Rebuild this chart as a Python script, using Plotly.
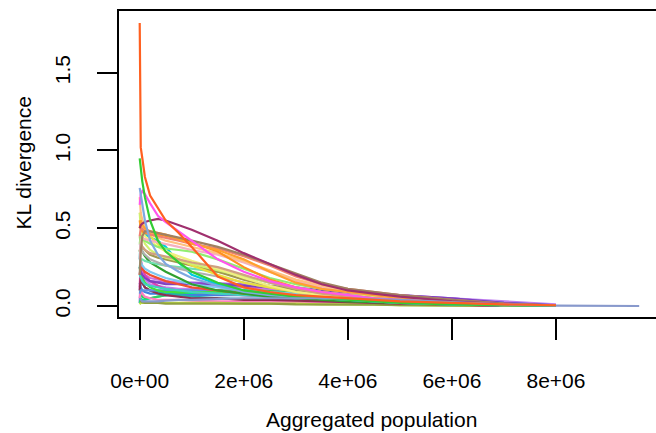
import plotly.graph_objects as go

# Aggregated population grid (millions)
POP_M = [0, 0.02, 0.05, 0.1, 0.2, 0.35, 0.5, 0.75, 1.0, 1.5, 2.0, 2.5, 3.0, 3.5, 4.0, 4.5, 5.0, 6.0, 7.0, 8.0, 9.6]

N = None
s01 = [0.02, 0.20, 0.18, 0.17, 0.16, 0.155, 0.15, 0.15, 0.15, 0.145, 0.14, 0.13, 0.12, 0.10, 0.09, 0.08, 0.07, 0.05, 0.02, 0.005, N]
s02 = [0.10, 0.22, 0.20, 0.17, 0.14, 0.13, 0.12, 0.11, 0.11, 0.10, 0.09, 0.09, 0.08, 0.08, 0.07, 0.07, 0.06, 0.05, 0.03, 0.01, N]
s03 = [0.02, 0.05, 0.04, 0.04, 0.05, 0.06, 0.07, 0.08, 0.08, 0.08, 0.08, 0.08, 0.07, 0.07, 0.06, 0.06, 0.05, 0.03, 0.01, 0.005, N]
s04 = [0.10, 0.08, 0.06, 0.05, 0.05, 0.06, 0.07, 0.08, 0.09, 0.10, 0.10, 0.10, 0.09, 0.08, 0.07, 0.06, 0.05, 0.03, 0.01, 0.0, N]
s05 = [0.15, 0.12, 0.10, 0.09, 0.08, 0.08, 0.07, 0.07, 0.07, 0.07, 0.07, 0.07, 0.07, 0.07, 0.07, 0.065, 0.06, 0.045, 0.02, 0.005, N]
s06 = [0.25, 0.20, 0.15, 0.12, 0.10, 0.09, 0.08, 0.07, 0.06, 0.05, 0.045, 0.04, 0.04, 0.04, 0.035, 0.03, 0.03, 0.02, 0.01, 0.0, N]
s07 = [0.20, 0.25, 0.22, 0.20, 0.18, 0.17, 0.16, 0.15, 0.14, 0.13, 0.12, 0.11, 0.10, 0.09, 0.08, 0.07, 0.06, 0.04, 0.01, 0.0, N]
s08 = [0.05, 0.10, 0.08, 0.06, 0.05, 0.04, 0.04, 0.04, 0.035, 0.03, 0.03, 0.03, 0.025, 0.02, 0.02, 0.015, 0.01, 0.005, 0.0, N, N]
s09 = [0.01, 0.02, 0.02, 0.02, 0.02, 0.02, 0.02, 0.02, 0.02, 0.02, 0.015, 0.015, 0.015, 0.01, 0.01, 0.01, 0.005, 0.003, 0.0, N, N]
s10 = [0.03, 0.03, 0.025, 0.02, 0.02, 0.02, 0.015, 0.015, 0.015, 0.015, 0.015, 0.015, 0.01, 0.01, 0.01, 0.008, 0.005, 0.003, 0.001, 0.0, N]
s11 = [0.12, 0.30, 0.25, 0.20, 0.16, 0.13, 0.11, 0.10, 0.09, 0.08, 0.07, 0.06, 0.05, 0.04, 0.035, 0.03, 0.02, 0.01, 0.0, N, N]
s12 = [0.10, 0.18, 0.15, 0.12, 0.10, 0.08, 0.07, 0.06, 0.05, 0.05, 0.04, 0.04, 0.035, 0.03, 0.025, 0.02, 0.015, 0.01, 0.0, N, N]
s13 = [0.08, 0.10, 0.10, 0.10, 0.10, 0.10, 0.10, 0.10, 0.10, 0.095, 0.09, 0.085, 0.08, 0.075, 0.07, 0.06, 0.05, 0.035, 0.015, 0.003, N]
s14 = [0.25, 0.20, 0.18, 0.15, 0.12, 0.10, 0.09, 0.09, 0.09, 0.09, 0.09, 0.085, 0.08, 0.07, 0.06, 0.05, 0.04, 0.025, 0.01, 0.0, N]
s15 = [0.25, 0.22, 0.20, 0.18, 0.16, 0.15, 0.14, 0.14, 0.14, 0.14, 0.13, 0.12, 0.11, 0.10, 0.09, 0.08, 0.07, 0.05, 0.02, 0.005, N]
s16 = [0.20, 0.18, 0.16, 0.14, 0.13, 0.12, 0.11, 0.10, 0.09, 0.08, 0.07, 0.06, 0.05, 0.045, 0.04, 0.035, 0.03, 0.02, 0.01, 0.0, N]
s17 = [0.20, 0.25, 0.24, 0.22, 0.20, 0.18, 0.16, 0.14, 0.12, 0.10, 0.08, 0.07, 0.06, 0.05, 0.04, 0.03, 0.02, 0.01, 0.005, 0.0, N]
s18 = [0.30, 0.28, 0.26, 0.24, 0.22, 0.20, 0.18, 0.16, 0.14, 0.12, 0.10, 0.09, 0.08, 0.07, 0.06, 0.05, 0.04, 0.02, 0.01, 0.0, N]
s19 = [0.35, 0.38, 0.35, 0.32, 0.28, 0.25, 0.22, 0.18, 0.14, 0.10, 0.08, 0.06, 0.05, 0.04, 0.03, 0.025, 0.02, 0.01, 0.005, 0.0, N]
s20 = [0.30, 0.45, 0.48, 0.46, 0.44, 0.42, 0.38, 0.28, 0.20, 0.14, 0.10, 0.08, 0.06, 0.05, 0.04, 0.03, 0.02, 0.01, 0.005, 0.0, N]
s21 = [0.25, 0.30, 0.30, 0.29, 0.28, 0.27, 0.26, 0.25, 0.24, 0.22, 0.19, 0.15, 0.12, 0.09, 0.07, 0.05, 0.04, 0.02, 0.005, 0.0, N]
s22 = [0.35, 0.40, 0.38, 0.36, 0.33, 0.31, 0.30, 0.28, 0.26, 0.22, 0.17, 0.13, 0.10, 0.07, 0.05, 0.04, 0.03, 0.02, 0.005, 0.0, N]
s23 = [0.40, 0.38, 0.35, 0.33, 0.30, 0.28, 0.26, 0.24, 0.22, 0.19, 0.15, 0.12, 0.09, 0.07, 0.06, 0.05, 0.04, 0.02, 0.005, 0.0, N]
s24 = [0.60, 0.58, 0.55, 0.50, 0.45, 0.40, 0.35, 0.30, 0.26, 0.20, 0.15, 0.12, 0.09, 0.07, 0.05, 0.04, 0.03, 0.015, 0.005, 0.0, N]
s25 = [0.60, 0.50, 0.45, 0.40, 0.36, 0.33, 0.31, 0.29, 0.27, 0.23, 0.19, 0.15, 0.12, 0.09, 0.07, 0.06, 0.05, 0.03, 0.01, 0.0, N]
s26 = [0.50, 0.52, 0.48, 0.45, 0.42, 0.38, 0.35, 0.32, 0.29, 0.24, 0.18, 0.13, 0.09, 0.07, 0.05, 0.04, 0.03, 0.02, 0.005, 0.0, N]
s27 = [0.45, 0.40, 0.38, 0.36, 0.34, 0.33, 0.32, 0.30, 0.28, 0.25, 0.20, 0.15, 0.11, 0.08, 0.06, 0.05, 0.04, 0.02, 0.005, 0.0, N]
s28 = [0.40, 0.45, 0.43, 0.42, 0.40, 0.38, 0.37, 0.36, 0.35, 0.30, 0.24, 0.18, 0.14, 0.11, 0.09, 0.07, 0.05, 0.03, 0.01, 0.0, N]
s29 = [0.30, 0.42, 0.44, 0.43, 0.42, 0.41, 0.40, 0.38, 0.36, 0.33, 0.28, 0.22, 0.16, 0.12, 0.09, 0.07, 0.05, 0.03, 0.01, 0.0, N]
s30 = [0.70, 0.60, 0.55, 0.50, 0.46, 0.44, 0.42, 0.40, 0.38, 0.34, 0.29, 0.23, 0.17, 0.13, 0.10, 0.08, 0.06, 0.03, 0.01, 0.0, N]
s31 = [0.55, 0.50, 0.48, 0.47, 0.46, 0.46, 0.45, 0.43, 0.41, 0.35, 0.25, 0.17, 0.12, 0.09, 0.07, 0.05, 0.04, 0.02, 0.005, 0.0, N]
s32 = [0.45, 0.50, 0.50, 0.48, 0.46, 0.45, 0.44, 0.42, 0.40, 0.37, 0.32, 0.26, 0.19, 0.14, 0.11, 0.09, 0.07, 0.04, 0.015, 0.003, N]
s33 = [0.50, 0.55, 0.52, 0.50, 0.48, 0.47, 0.46, 0.43, 0.40, 0.36, 0.30, 0.22, 0.15, 0.11, 0.09, 0.07, 0.05, 0.03, 0.01, 0.0, N]
s34 = [0.20, 0.35, 0.45, 0.48, 0.48, 0.47, 0.46, 0.44, 0.42, 0.38, 0.33, 0.27, 0.21, 0.15, 0.11, 0.09, 0.07, 0.04, 0.015, 0.003, N]
s35 = [0.50, 0.52, 0.53, 0.54, 0.55, 0.56, 0.55, 0.52, 0.49, 0.42, 0.34, 0.27, 0.20, 0.14, 0.10, 0.08, 0.06, 0.03, 0.01, 0.0, N]
s36 = [0.65, 0.72, 0.74, 0.72, 0.66, 0.58, 0.54, 0.48, 0.42, 0.30, 0.22, 0.16, 0.12, 0.09, 0.07, 0.05, 0.04, 0.02, 0.01, 0.0, N]
s37 = [0.76, 0.72, 0.65, 0.55, 0.42, 0.33, 0.27, 0.22, 0.18, 0.13, 0.09, 0.07, 0.06, 0.05, 0.04, 0.03, 0.02, 0.01, 0.005, 0.0, N]
s38 = [0.95, 0.88, 0.80, 0.70, 0.55, 0.42, 0.35, 0.28, 0.22, 0.15, 0.10, 0.08, 0.06, 0.05, 0.04, 0.03, 0.02, 0.01, 0.005, 0.0, N]
s39 = [0.05, 0.04, 0.03, 0.03, 0.03, 0.03, 0.035, 0.04, 0.04, 0.045, 0.05, 0.05, 0.05, 0.05, 0.05, 0.045, 0.04, 0.025, 0.01, 0.003, 0.0]
s40 = [1.82, 1.02, 0.95, 0.83, 0.71, 0.63, 0.55, 0.47, 0.38, 0.19, 0.12, 0.09, 0.07, 0.06, 0.05, 0.04, 0.03, 0.02, 0.01, 0.005, N]

SERIES = [s01, s02, s03, s04, s05, s06, s07, s08, s09, s10,
          s11, s12, s13, s14, s15, s16, s17, s18, s19, s20,
          s21, s22, s23, s24, s25, s26, s27, s28, s29, s30,
          s31, s32, s33, s34, s35, s36, s37, s38, s39, s40]

COLORS = ["#9955DD", "#C080F0", "#00EE90", "#30D060", "#4080E0",
          "#20B0B0", "#D070E0", "#FF80C0", "#C0E040", "#90A040",
          "#E040B0", "#903050", "#6090E0", "#40E040", "#8040C0",
          "#40D0C0", "#F05030", "#80C8F0", "#30A030", "#00CCDD",
          "#70E0B0", "#A09850", "#B0B0B0", "#E8E040", "#D0F070",
          "#F0F080", "#D0A080", "#90EE70", "#F5B0C0", "#FFC080",
          "#FF9020", "#F08070", "#FFA030", "#A08060", "#A0306E",
          "#FF55EE", "#7FA8E0", "#33CC33", "#8899CC", "#FF6020"]

X_TICKS = [0, 2e6, 4e6, 6e6, 8e6]
X_TICK_TEXT = ["0e+00", "2e+06", "4e+06", "6e+06", "8e+06"]
Y_TICKS = [0, 0.5, 1.0, 1.5]
Y_TICK_TEXT = ["0.0", "0.5", "1.0", "1.5"]

pop = [p * 1e6 for p in POP_M]

fig = go.Figure()
for vals, col in zip(SERIES, COLORS):
    fig.add_trace(go.Scatter(x=pop, y=vals, mode="lines",
                             line=dict(color=col, width=2.2),
                             connectgaps=False, showlegend=False,
                             hoverinfo="skip"))

FONT = dict(family="Liberation Sans, Arial, sans-serif", size=21, color="black")

fig.update_layout(
    width=656, height=433,
    margin=dict(l=119, r=0, t=11, b=116),
    paper_bgcolor="white", plot_bgcolor="white",
    font=FONT,
    xaxis=dict(range=[-0.398e6, 9.923e6], tickvals=X_TICKS, ticktext=X_TICK_TEXT,
               ticks="outside", ticklen=21, tickwidth=2, tickcolor="black",
               showline=True, linewidth=2, linecolor="black", mirror=True,
               showgrid=False, zeroline=False, ticklabelstandoff=23,
               tickfont=FONT),
    yaxis=dict(range=[-0.0707, 1.897], tickvals=Y_TICKS, ticktext=Y_TICK_TEXT,
               ticks="outside", ticklen=20, tickwidth=2, tickcolor="black",
               showline=True, linewidth=2, linecolor="black", mirror=False,
               showgrid=False, zeroline=False, tickangle=-90,
               ticklabelstandoff=19, tickfont=FONT),
    annotations=[
        dict(text="Aggregated population", xref="paper", yref="paper",
             x=(371 - 119) / 537, y=(317 - 419) / 306, xanchor="center",
             yanchor="middle", showarrow=False, font=FONT),
        dict(text="KL divergence", xref="paper", yref="paper",
             x=(23 - 119) / 537, y=(317 - 163.5) / 306, xanchor="center",
             yanchor="middle", showarrow=False, textangle=-90, font=FONT),
    ],
)

fig.write_html("out.html", config={"displayModeBar": False},
               post_script="document.body.style.margin='0px';document.body.style.overflow='hidden';")
